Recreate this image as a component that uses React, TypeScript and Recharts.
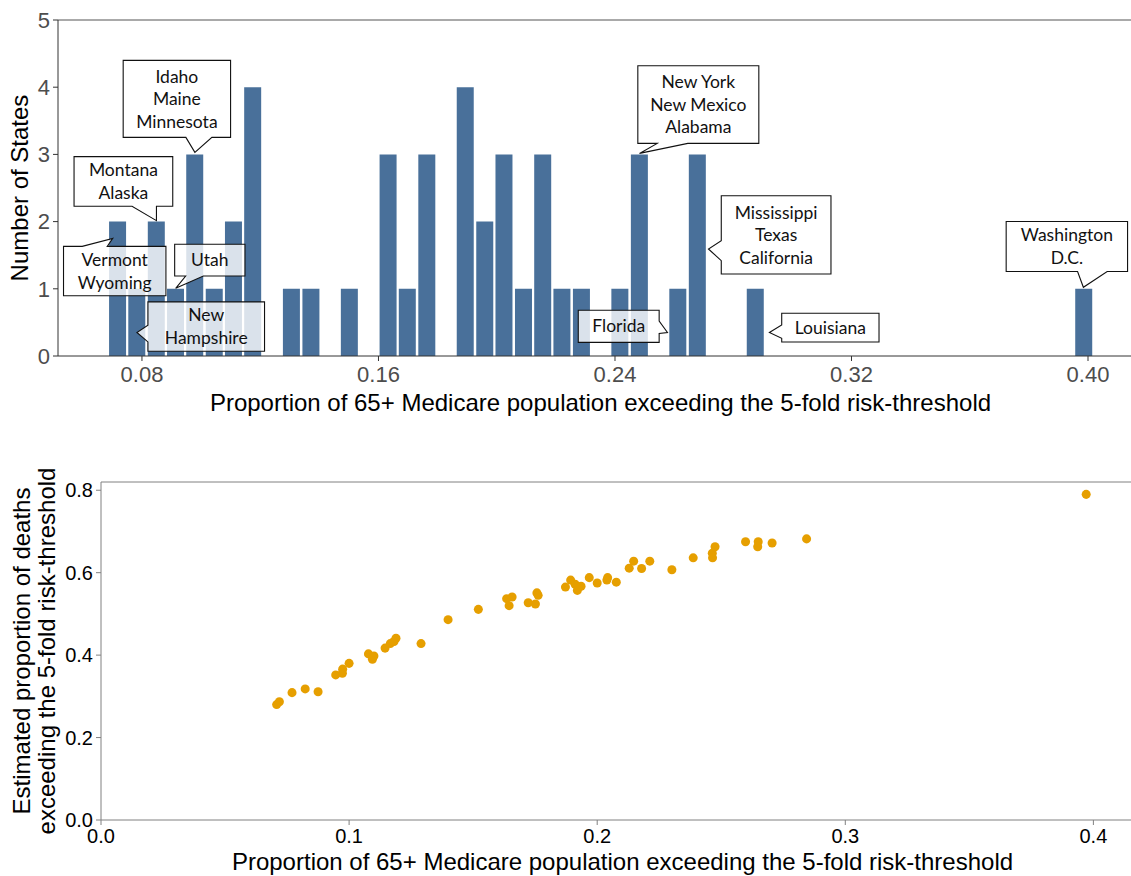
import React from 'react';
import {
  BarChart,
  Bar,
  XAxis,
  YAxis,
  ReferenceLine,
  ReferenceDot,
  ScatterChart,
  Scatter,
  ZAxis,
  Label,
} from 'recharts';

// histogram: bin centres and number of states in each bin
const binCenters = [
  0.0718, 0.0783, 0.0849, 0.0914, 0.0979, 0.1045, 0.111, 0.1175, 0.1241, 0.1306,
  0.1372, 0.1437, 0.1502, 0.1568, 0.1633, 0.1698, 0.1764, 0.1829, 0.1894, 0.196,
  0.2025, 0.2091, 0.2156, 0.2221, 0.2287, 0.2352, 0.2417, 0.2483, 0.2548, 0.2613,
  0.2679, 0.2744, 0.281, 0.2875, 0.294, 0.3006, 0.3071, 0.3136, 0.3202, 0.3267,
  0.3332, 0.3398, 0.3463, 0.3529, 0.3594, 0.3659, 0.3725, 0.379, 0.3855, 0.3921,
  0.3986,
];
const stateCounts = [
  2, 1, 2, 1, 3, 1, 2, 4, 0, 1,
  1, 0, 1, 0, 3, 1, 3, 0, 4, 2,
  3, 1, 3, 1, 1, 0, 1, 3, 0, 1,
  3, 0, 0, 1, 0, 0, 0, 0, 0, 0,
  0, 0, 0, 0, 0, 0, 0, 0, 0, 0,
  1,
];
const histXTicks = [0.08, 0.16, 0.24, 0.32, 0.4];
const histYTicks = [0, 1, 2, 3, 4, 5];

// per state: share of 65+ population over the threshold vs. share of deaths
const popShare = [
  0.0708, 0.0719, 0.077, 0.0823, 0.0875, 0.0946, 0.0973, 0.0974, 0.1, 0.1078,
  0.1094, 0.11, 0.1145, 0.1166, 0.1181, 0.1189, 0.129, 0.1399, 0.1521, 0.1635,
  0.1645, 0.1657, 0.1722, 0.1751, 0.1757, 0.1762, 0.1872, 0.1893, 0.1911, 0.192,
  0.1935, 0.1968, 0.2, 0.2039, 0.2042, 0.2077, 0.2129, 0.2147, 0.2179, 0.2212,
  0.2301, 0.2387, 0.2464, 0.2465, 0.2475, 0.2598, 0.2647, 0.2649, 0.2705, 0.2844,
  0.3971,
];
const deathShare = [
  0.28, 0.287, 0.309, 0.318, 0.311, 0.352, 0.356, 0.366, 0.38, 0.403,
  0.39, 0.398, 0.417, 0.428, 0.433, 0.441, 0.428, 0.486, 0.511, 0.537,
  0.52, 0.541, 0.527, 0.524, 0.551, 0.545, 0.565, 0.582, 0.572, 0.557,
  0.567, 0.588, 0.575, 0.582, 0.588, 0.577, 0.611, 0.628, 0.61, 0.628,
  0.607, 0.636, 0.647, 0.636, 0.663, 0.675, 0.663, 0.675, 0.672, 0.682,
  0.79,
];
const scatterXTicks = [0, 0.1, 0.2, 0.3, 0.4];
const scatterYTicks = [0, 0.2, 0.4, 0.6, 0.8];

// state name callouts on the histogram
const calloutText = [
  ['Idaho', 'Maine', 'Minnesota'],
  ['Montana', 'Alaska'],
  ['Vermont', 'Wyoming'],
  ['Utah'],
  ['New', 'Hampshire'],
  ['New York', 'New Mexico', 'Alabama'],
  ['Mississippi', 'Texas', 'California'],
  ['Washington', 'D.C.'],
  ['Florida'],
  ['Louisiana'],
];
const calloutX = [0.0979, 0.0849, 0.0718, 0.0914, 0.0783, 0.2483, 0.2679, 0.3986, 0.2613, 0.2875];
const calloutY = [3, 2, 1.75, 1, 0.35, 3, 1.6, 1, 0.35, 0.35];

type Side = 'top' | 'right' | 'bottom' | 'left';
interface CalloutLayout {
  tip: [number, number];
  box: [number, number, number, number];
  side: Side;
  base: [number, number];
}

// pixel offsets of each bubble relative to its pointer tip
const calloutLayout: CalloutLayout[] = [
  { tip: [0, -2], box: [-71.7, -92, 35.7, -15], side: 'bottom', base: [-9, 17] },
  { tip: [0, -1], box: [-82.4, -64, 16.3, -14.3], side: 'bottom', base: [-24.4, 0] },
  { tip: [-5, 0], box: [-49.2, 8, 53.2, 57.3], side: 'top', base: [-30.5, -5.5] },
  { tip: [0, -0.5], box: [-1, -44, 69.3, -12.3], side: 'bottom', base: [10, 27.7] },
  { tip: [0, 0], box: [11, -30.6, 127.6, 18.7], side: 'left', base: [-7.3, 9.4] },
  { tip: [0, -1], box: [-1.7, -87.6, 119.3, -10], side: 'bottom', base: [17.7, 48.3] },
  { tip: [11, 0.5], box: [12.8, -53.3, 122.5, 25], side: 'left', base: [-8.3, 11.7] },
  { tip: [-0.5, -1.5], box: [-77.2, -65.8, 44.2, -15.8], side: 'bottom', base: [-5.8, 23.8] },
  { tip: [-10.5, 0], box: [-89.2, -22.3, -8.3, 9.9], side: 'right', base: [-11.3, 1] },
  { tip: [14, 0], box: [12.3, -19.2, 109.6, 9.5], side: 'left', base: [-7.5, 5.8] },
];

const SANS = '"Liberation Sans", Arial, Helvetica, sans-serif';
const CALLOUT_FONT = 'Lato, "Open Sans", sans-serif';
const BAR_FILL = '#49709a';
const POINT_FILL = '#e69f00';

const histData = binCenters.map((bin, i) => ({ bin, count: stateCounts[i] }));
const scatterData = popShare.map((x, i) => ({ x, y: deathShare[i] }));

function bubblePath(tx: number, ty: number, lay: CalloutLayout) {
  const [l, t, r, b] = lay.box;
  const L = tx + l;
  const T = ty + t;
  const R = tx + r;
  const B = ty + b;
  const [b0, b1] = lay.base;
  const pts: [number, number][] = [[L, T]];
  if (lay.side === 'top') pts.push([tx + b0, T], [tx, ty], [tx + b1, T]);
  pts.push([R, T]);
  if (lay.side === 'right') pts.push([R, ty + b0], [tx, ty], [R, ty + b1]);
  pts.push([R, B]);
  if (lay.side === 'bottom') pts.push([tx + b1, B], [tx, ty], [tx + b0, B]);
  pts.push([L, B]);
  if (lay.side === 'left') pts.push([L, ty + b1], [tx, ty], [L, ty + b0]);
  return 'M' + pts.map((p) => `${p[0]},${p[1]}`).join('L') + 'Z';
}

function Callout({ cx, cy, index }: { cx?: number; cy?: number; index: number }) {
  if (cx == null || cy == null) return null;
  const lay = calloutLayout[index];
  const lines = calloutText[index];
  const tx = cx + lay.tip[0];
  const ty = cy + lay.tip[1];
  const midX = tx + (lay.box[0] + lay.box[2]) / 2;
  const midY = ty + (lay.box[1] + lay.box[3]) / 2;
  const lineH = 22.5;
  return (
    <g>
      <path d={bubblePath(tx, ty, lay)} fill="#fff" fillOpacity={0.8} stroke="#111" strokeWidth={1.1} />
      {lines.map((line, i) => (
        <text
          key={line}
          x={midX}
          y={midY + (i - (lines.length - 1) / 2) * lineH + 6.2}
          textAnchor="middle"
          fontFamily={CALLOUT_FONT}
          fontSize={17.5}
          fill="#111"
        >
          {line}
        </text>
      ))}
    </g>
  );
}

// rotated axis title; baselines are measured from the left of the axis box
function VerticalTitle({ viewBox, lines, baselines }: { viewBox?: any; lines: string[]; baselines: number[] }) {
  if (!viewBox) return null;
  const cy = viewBox.y + viewBox.height / 2;
  return (
    <g>
      {lines.map((line, i) => {
        const x = viewBox.x + baselines[i];
        return (
          <text
            key={line}
            x={x}
            y={cy}
            transform={`rotate(-90, ${x}, ${cy})`}
            textAnchor="middle"
            fontFamily={SANS}
            fontSize={24}
            fill="#000"
          >
            {line}
          </text>
        );
      })}
    </g>
  );
}

const xTitle = 'Proportion of 65+ Medicare population exceeding the 5-fold risk-threshold';

function StateHistogram() {
  return (
    <BarChart
      width={1145}
      height={420}
      data={histData}
      barCategoryGap="5%"
      margin={{ top: 20, right: 2, bottom: 0, left: 0 }}
    >
      <XAxis
        dataKey="bin"
        type="number"
        domain={[0.0516, 0.4186]}
        allowDataOverflow
        ticks={histXTicks}
        tickFormatter={(v: number) => v.toFixed(2)}
        height={64}
        tickSize={5}
        tickMargin={5}
        stroke="#333"
        tick={{ fontSize: 22, fill: '#4d4d4d', fontFamily: SANS }}
      >
        <Label value={xTitle} position="insideBottom" offset={9} style={{ fontSize: 24, fill: '#000', fontFamily: SANS }} />
      </XAxis>
      <YAxis
        type="number"
        domain={[0, 5]}
        ticks={histYTicks}
        width={58}
        tickSize={5}
        tickMargin={3}
        stroke="#333"
        tick={{ fontSize: 22, fill: '#4d4d4d', fontFamily: SANS }}
      >
        <Label content={(p: any) => <VerticalTitle viewBox={p.viewBox} lines={['Number of States']} baselines={[28]} />} />
      </YAxis>
      <ReferenceLine y={5} stroke="#555" strokeWidth={1} />
      <Bar dataKey="count" fill={BAR_FILL} isAnimationActive={false} />
      {calloutText.map((_, i) => (
        <ReferenceDot
          key={i}
          x={calloutX[i]}
          y={calloutY[i]}
          r={0}
          ifOverflow="visible"
          shape={(p: any) => <Callout cx={p.cx} cy={p.cy} index={i} />}
        />
      ))}
    </BarChart>
  );
}

function DeathShareScatter() {
  return (
    <ScatterChart width={1145} height={446} margin={{ top: 52, right: 1, bottom: 0, left: 0 }}>
      <XAxis
        dataKey="x"
        type="number"
        domain={[0, 0.4204]}
        allowDataOverflow
        ticks={scatterXTicks}
        tickFormatter={(v: number) => v.toFixed(1)}
        height={56}
        tickSize={5}
        tickMargin={4}
        stroke="#808080"
        tick={{ fontSize: 20, fill: '#000', fontFamily: SANS }}
      >
        <Label value={xTitle} position="insideBottom" offset={6} style={{ fontSize: 24, fill: '#000', fontFamily: SANS }} />
      </XAxis>
      <YAxis
        dataKey="y"
        type="number"
        domain={[0, 0.82]}
        allowDataOverflow
        ticks={scatterYTicks}
        tickFormatter={(v: number) => v.toFixed(1)}
        width={101}
        tickSize={5}
        tickMargin={3}
        stroke="#808080"
        tick={{ fontSize: 20, fill: '#000', fontFamily: SANS }}
      >
        <Label
          content={(p: any) => (
            <VerticalTitle
              viewBox={p.viewBox}
              lines={['Estimated proportion of deaths', 'exceeding the 5-fold risk-threshold']}
              baselines={[30, 55]}
            />
          )}
        />
      </YAxis>
      <ZAxis range={[38, 38]} />
      <ReferenceLine y={0.82} stroke="#808080" strokeWidth={1} />
      <Scatter data={scatterData} fill={POINT_FILL} isAnimationActive={false} />
    </ScatterChart>
  );
}

export default function App() {
  return (
    <div
      style={{
        position: 'absolute',
        left: 0,
        top: 0,
        width: 1131,
        height: 876,
        overflow: 'hidden',
        background: '#fff',
      }}
    >
      <div style={{ position: 'absolute', left: 0, top: 0 }}>
        <StateHistogram />
      </div>
      <div style={{ position: 'absolute', left: 0, top: 430 }}>
        <DeathShareScatter />
      </div>
    </div>
  );
}
